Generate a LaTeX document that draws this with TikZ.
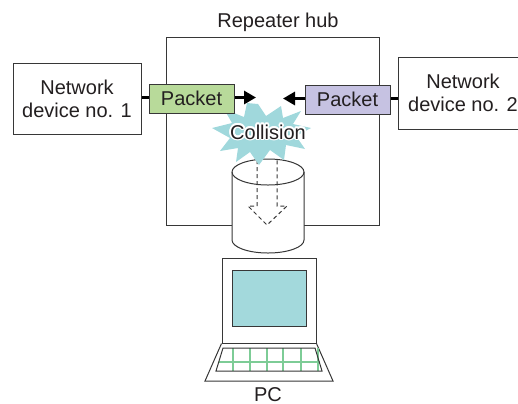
\documentclass[tikz,border=0pt]{standalone}
\usepackage{fontspec}
\setmainfont{Liberation Sans}
\usetikzlibrary{arrows.meta}
\definecolor{linegray}{RGB}{55,55,55}
\definecolor{inkgray}{RGB}{35,31,32}
\definecolor{pktgreen}{RGB}{184,218,154}
\definecolor{pktpurple}{RGB}{198,194,226}
\definecolor{bangcyan}{RGB}{160,216,220}
\definecolor{screencyan}{RGB}{163,217,220}
\definecolor{keygreen}{RGB}{125,204,150}

\begin{document}
\begin{tikzpicture}[x=0.5pt, y=-0.5pt, >={Triangle[length=6pt,width=6.5pt]}]
    \tikzset{txt/.style={text=inkgray, inner sep=0pt, font=\fontsize{10}{11.5}\selectfont},
             box/.style={txt, draw=linegray, fill=white, line width=0.5pt, align=center},
             packet/.style={box, minimum width=42.5pt, minimum height=14.5pt},
             link/.style={line width=1.5pt, black},
             thin/.style={draw=linegray, line width=0.5pt}}
    \clip (0,0) rectangle (518,403);
    % repeater hub
    \draw[thin] (166,37) rectangle (379,225);
    \node[txt, anchor=base] (hublabel) at (278,27.5) {Repeater hub};
    % cylinder with the dashed arrow
    \draw[thin, fill=white] (232,172) -- (232,240)
        arc[start angle=180, end angle=360, x radius=18pt, y radius=6.5pt] -- (304,172)
        arc[start angle=0, end angle=180, x radius=18pt, y radius=6.5pt];
    \draw[thin] (232,172) arc[start angle=180, end angle=360, x radius=18pt, y radius=6.5pt];
    \draw[thin, dashed, dash pattern=on 2pt off 1.5pt] (257,160) -- (257,206) -- (248,206)
        -- (267,225) -- (287,206) -- (277,206) -- (277,160);
    % collision
    \fill[bangcyan] (258,104) -- (266,116) -- (281,106) -- (283,118) -- (301,111) -- (293,124)
        -- (311,128) -- (296,136) -- (305,149) -- (286,145) -- (284,160) -- (270,150)
        -- (259,165) -- (250,152) -- (236,162) -- (238,148) -- (220,151) -- (230,138)
        -- (212,128) -- (232,123) -- (224,109) -- (244,117) -- (247,103) -- cycle;
    \foreach \a in {0,30,...,330}
        \node[txt, text=white, anchor=base, shift={(\a:0.9pt)}] at (268,139) {Collision};
    \node[txt, anchor=base] (collision) at (268,139) {Collision};
    % devices and packets
    \node[box, minimum width=64pt, minimum height=35.5pt] (dev1) at (77,98.5) {Network\\device no. 1};
    \node[box, minimum width=65pt, minimum height=36pt] (dev2) at (463,93) {Network\\device no. 2};
    \node[packet, fill=pktgreen] (pkt1) at (191.5,98.5) {Packet};
    \node[packet, fill=pktpurple] (pkt2) at (347.5,99.5) {Packet};
    \coordinate (hit1) at (256,97.5);
    \coordinate (hit2) at (283,98.5);
    \draw[link] (dev1.east |- 0,97.5) -- (pkt1.west |- 0,97.5);
    \draw[link, ->] (pkt1.east |- 0,97.5) -- (hit1);
    \draw[link] (dev2.west |- 0,98.5) -- (pkt2.east |- 0,98.5);
    \draw[link, ->] (pkt2.west |- 0,98.5) -- (hit2);
    % PC
    \node[thin, minimum width=47pt, minimum height=42.5pt, inner sep=0pt] (pc) at (269,300.5) {};
    \node[thin, fill=screencyan, minimum width=37pt, minimum height=28pt, inner sep=0pt] (screen) at (269,298) {};
    \draw[thin] (pc.south west) -- (205,381) -- (333,381) -- (pc.south east);
    \foreach \x in {233,250,267,283,301,318}
        \draw[keygreen, line width=1pt] (\x,348) -- (\x,371);
    \draw[keygreen, line width=1pt] (219,362) -- (320,362);
    \draw[thin] (223,348) -- (315,348) -- (322,371) -- (216,371) -- cycle;
    \node[txt, anchor=base] (pclabel) at (268,401) {PC};
\end{tikzpicture}
\end{document}
